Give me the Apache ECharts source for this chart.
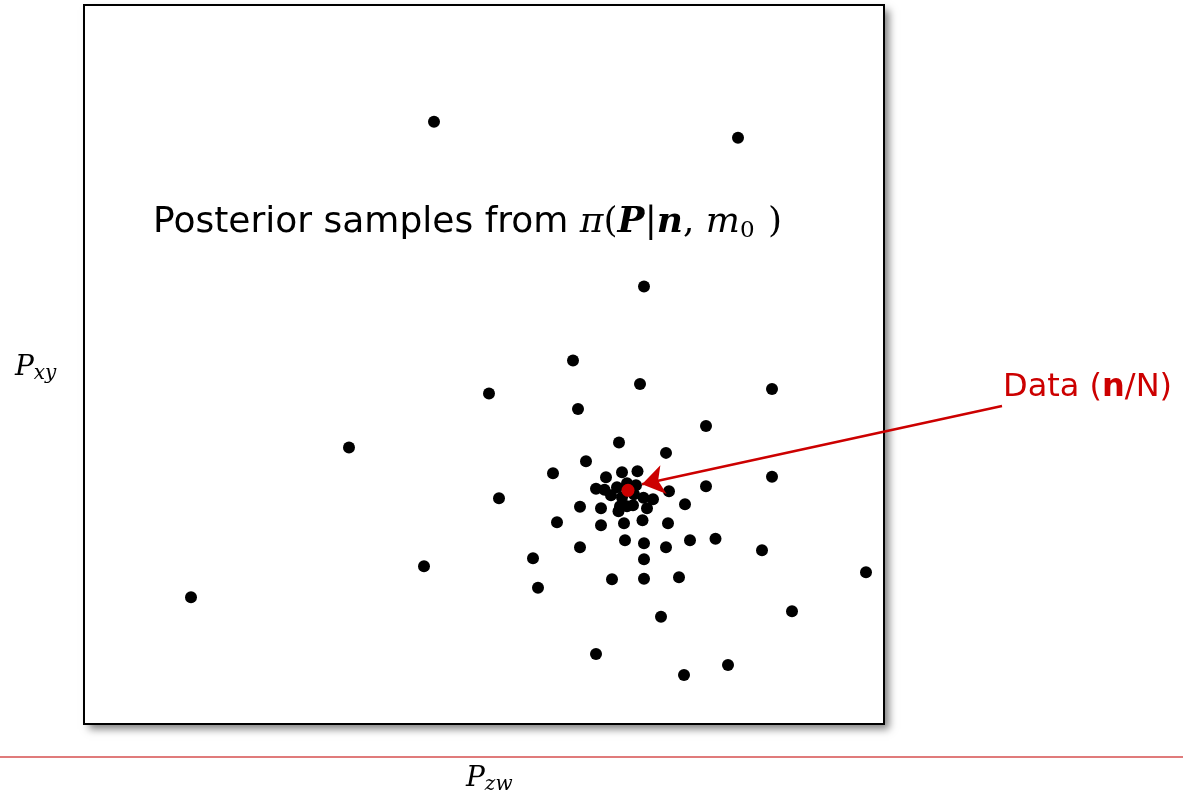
<!DOCTYPE html>
<html>
<head>
<meta charset="utf-8">
<script src="https://cdn.jsdelivr.net/npm/echarts@6/dist/echarts.min.js"></script>
<style>html,body{margin:0;padding:0;background:#fff;}#c{width:1183px;height:793px;}</style>
</head>
<body>
<div id="c"></div>
<script>
// Posterior samples (P_zw, P_xy) in plot units (0..800 horizontally, 0..720 vertically)
const sampleX = [350,654,560,489,556,688,405,494,265,622,535,582,502,469,688,622,415,522,538,553.5,512,520.5,527,533,543,552,559.5,569,585,601,496,517,536,543,549,534.5,563,538,550,473,517,540,558.5,584,541,560,582,606,631.5,496,449,560,528,560,595,454,577,512,600,644,340,107,678,782,708];
const sampleY = [603,587,438,364,340.5,335.5,331,315.5,277,298.5,282,271.5,263,251,247.5,238,226,247,252,253,235.5,234.5,229,237,241,239,226.5,225,233,220,217.5,216,218,218,219,213,216,227,230,202,199,201,204,201,184,181,177,184,185.5,177,166,165,145,145.5,147,136.5,107.5,70,49,59,158,127,174,152,113];
// Observed data point (n/N)
const dataX = [544];
const dataY = [234];

const xRange = [0, 800];
const yRange = [0, 720];

const samples = sampleX.map((x, i) => [x, sampleY[i]]);
const observed = dataX.map((x, i) => [x, dataY[i]]);

const chart = echarts.init(document.getElementById('c'), null, {renderer: 'canvas'});
chart.setOption({
  backgroundColor: '#fff',
  animation: false,
  grid: {
    show: true, left: 84, top: 5, right: 299, bottom: 69,
    borderColor: '#000', borderWidth: 2, backgroundColor: 'transparent', z: 1
  },
  xAxis: {type: 'value', min: xRange[0], max: xRange[1], show: false},
  yAxis: {type: 'value', min: yRange[0], max: yRange[1], show: false},
  series: [
    {
      type: 'scatter', data: samples, symbolSize: 12,
      itemStyle: {color: '#000', opacity: 1}, z: 3
    },
    {
      type: 'scatter', data: observed, symbolSize: 13,
      itemStyle: {color: '#cc0000', opacity: 1}, z: 4,
      markLine: {
        silent: true, symbol: ['none', 'arrow'], symbolSize: 22,
        lineStyle: {color: '#cc0000', width: 2.5, type: 'solid', opacity: 1},
        label: {show: false},
        data: [[{x: 1002, y: 406}, {coord: [558, 240]}]]
      }
    }
  ],
  graphic: [
    {
      type: 'rect', z: -10, silent: true,
      shape: {x: 84, y: 5, width: 800, height: 719},
      style: {fill: '#fff', shadowColor: 'rgba(0,0,0,0.5)', shadowBlur: 8, shadowOffsetX: 5, shadowOffsetY: 5}
    },
    {
      type: 'text', left: 153, top: 205, z: 10,
      style: {
        text: 'Posterior samples from {g|π}{u|(}{b|P}{u||}{b|n}{u|, }{i|m}{s|0}{u| )}',
        font: '36px "DejaVu Sans"', fill: '#000',
        rich: {
          g: {fontFamily: 'DejaVu Serif', fontStyle: 'italic', fontSize: 36},
          u: {fontFamily: 'DejaVu Serif', fontSize: 36},
          b: {fontFamily: 'DejaVu Serif', fontStyle: 'italic', fontWeight: 'bold', fontSize: 36},
          i: {fontFamily: 'DejaVu Serif', fontStyle: 'italic', fontSize: 36},
          s: {fontFamily: 'DejaVu Serif', fontSize: 23, padding: [16, 2, 0, 0], verticalAlign: 'bottom'}
        }
      }
    },
    {
      type: 'text', z: 10,
      style: {
        x: 1003, y: 388, verticalAlign: 'middle', align: 'left',
        text: 'Data ({b|n}/N)',
        font: '32px "DejaVu Sans"', fill: '#cc0000',
        rich: {b: {fontWeight: 'bold', fontSize: 32, fontFamily: 'DejaVu Sans', fill: '#cc0000'}}
      }
    },
    {
      type: 'text', left: 15, top: 354, z: 10,
      style: {
        text: '{p|P}{s|xy}', fill: '#000',
        rich: {
          p: {fontFamily: 'DejaVu Serif', fontStyle: 'italic', fontSize: 28},
          s: {fontFamily: 'DejaVu Serif', fontStyle: 'italic', fontSize: 20, padding: [12, 0, 0, 0], verticalAlign: 'bottom'}
        }
      }
    },
    {
      type: 'text', left: 466, top: 765, z: 10,
      style: {
        text: '{p|P}{s|zw}', fill: '#000',
        rich: {
          p: {fontFamily: 'DejaVu Serif', fontStyle: 'italic', fontSize: 28},
          s: {fontFamily: 'DejaVu Serif', fontStyle: 'italic', fontSize: 20, padding: [12, 0, 0, 0], verticalAlign: 'bottom'}
        }
      }
    },
    {
      type: 'line', z: 1, silent: true,
      shape: {x1: 0, y1: 757, x2: 1183, y2: 757},
      style: {stroke: '#e07b7b', lineWidth: 2}
    }
  ]
});
</script>
</body>
</html>
